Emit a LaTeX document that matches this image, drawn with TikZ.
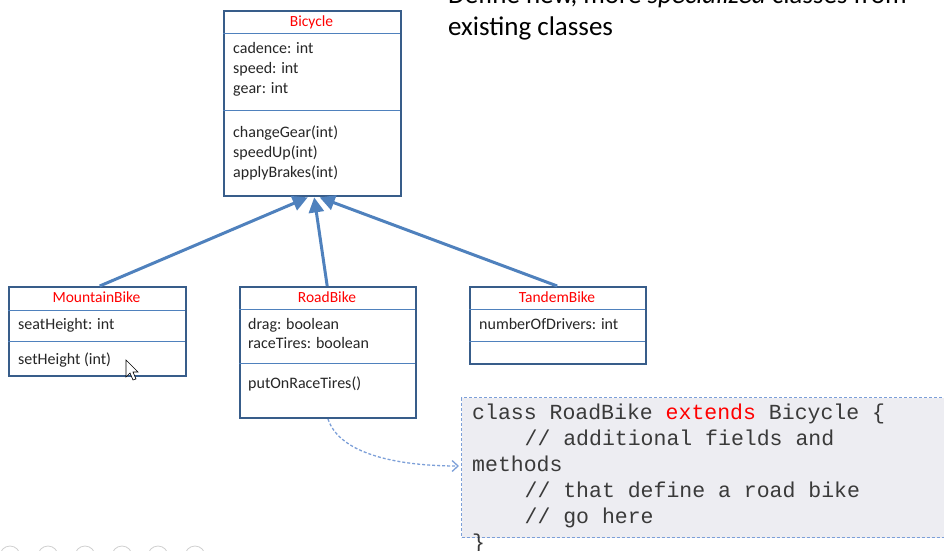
\documentclass[tikz,border=0pt]{standalone}
\usepackage{fontspec}
\setmainfont{Carlito}
\newfontfamily\codefont{Liberation Mono}
\usetikzlibrary{arrows.meta}
\definecolor{boxborder}{HTML}{385D8A}
\definecolor{sepline}{HTML}{4F81BD}
\definecolor{arrowblue}{HTML}{4F81BD}
\definecolor{titlered}{HTML}{FF0000}
\definecolor{txt}{HTML}{262626}
\definecolor{codefill}{HTML}{EDEDF2}
\definecolor{codeborder}{HTML}{7C9FD8}
\definecolor{codetxt}{HTML}{3A3A3A}
\definecolor{circgray}{HTML}{D0D0D0}
\tikzset{
  classbox/.style={draw=boxborder, line width=2.4pt, fill=white, rectangle, inner sep=0pt, anchor=north west},
  sep/.style={draw=sepline, line width=0.9pt},
  ctitle/.style={text=titlered, font=\fontsize{15.5}{18}\selectfont, anchor=base, inner sep=0pt},
  ctext/.style={text=txt, font=\fontsize{16}{19}\selectfont, anchor=base west, inner sep=0pt},
  inherit/.style={draw=arrowblue, line width=3pt, -{Triangle[length=15pt,width=15pt]}},
  codeline/.style={text=codetxt, font=\codefont\fontsize{21.5}{26}\selectfont, anchor=base west, inner sep=0pt},
  heading/.style={text=black, font=\fontsize{27}{32}\selectfont, anchor=base west, inner sep=0pt},
}
\begin{document}
\begin{tikzpicture}[x=1pt,y=-1pt]
\useasboundingbox (0,0) rectangle (944,550);
\clip (0,0) rectangle (944,550);

% heading
\node[heading] (h1) at (448,3) {Define new, more \textit{specialized} classes from};
\node[heading] (h2) at (448,35) {existing classes};

% Bicycle
\node[classbox, minimum width=177pt, minimum height=185pt] (bicycle) at (223,10) {};
\draw[sep] (223,33) -- (400,33);
\draw[sep] (223,110) -- (400,110);
\node[ctitle] (bt) at (311.5,26) {Bicycle};
\node[ctext] (b1) at (233,53) {cadence: int};
\node[ctext] (b2) at (233,73) {speed: int};
\node[ctext] (b3) at (233,93) {gear: int};
\node[ctext] (b4) at (233,137) {changeGear(int)};
\node[ctext] (b5) at (233,157) {speedUp(int)};
\node[ctext] (b6) at (233,177) {applyBrakes(int)};

% MountainBike
\node[classbox, minimum width=177pt, minimum height=89pt] (mtb) at (8,286) {};
\draw[sep] (8,310) -- (185,310);
\draw[sep] (8,341) -- (185,341);
\node[ctitle] (mt) at (96.5,302.5) {MountainBike};
\node[ctext] (m1) at (18,329) {seatHeight: int};
\node[ctext] (m2) at (18,364) {setHeight (int)};

% RoadBike
\node[classbox, minimum width=176pt, minimum height=131pt] (road) at (239,286) {};
\draw[sep] (239,309) -- (415,309);
\draw[sep] (239,363) -- (415,363);
\node[ctitle] (rt) at (327,302.5) {RoadBike};
\node[ctext] (r1) at (248,329) {drag: boolean};
\node[ctext] (r2) at (248,348) {raceTires: boolean};
\node[ctext] (r3) at (248,388) {putOnRaceTires()};

% TandemBike
\node[classbox, minimum width=176pt, minimum height=77pt] (tandem) at (469,286) {};
\draw[sep] (469,309) -- (645,309);
\draw[sep] (469,341) -- (645,341);
\node[ctitle] (tt) at (557,302.5) {TandemBike};
\node[ctext] (t1) at (479,329) {numberOfDrivers: int};

% inheritance arrows
\draw[inherit] ([xshift=2pt]mtb.north) -- ([xshift=-5pt]bicycle.south);
\draw[inherit] ([xshift=-1pt]road.north) -- ([xshift=1.5pt]bicycle.south);
\draw[inherit] ([xshift=-1pt]tandem.north) -- ([xshift=7pt]bicycle.south);

% code box
\node[draw=codeborder, dash pattern=on 3pt off 2pt, line width=1.1pt, fill=codefill,
      minimum width=500pt, minimum height=140pt, anchor=north west, inner sep=0pt] (code) at (461,397) {};
\node[codeline] (c1) at (472,419) {class RoadBike \textcolor{titlered}{extends} Bicycle \{};
\node[codeline] (c2) at (524.4,445) {// additional fields and};
\node[codeline] (c3) at (472,471) {methods};
\node[codeline] (c4) at (524.4,497) {// that define a road bike};
\node[codeline] (c5) at (524.4,523) {// go here};
\node[codeline] (c6) at (472,549) {\}};

% dashed pointer
\coordinate (dstart) at (328,419);
\coordinate (dend) at (459,466);
\draw[draw=codeborder, dash pattern=on 3pt off 2pt, line width=1.3pt, -{Straight Barb[length=6pt,width=11pt]}]
  (dstart) .. controls (340,455) and (400,466) .. (dend);

% mouse cursor
\draw[fill=white, draw=black, line width=0.6pt, line join=miter]
  (126,360) -- (126,377) -- (130,373) -- (133,380) -- (136,379) -- (133,372) -- (138,372) -- cycle;

% faint circles at bottom
\foreach \cx [count=\i] in {10,48,85,122,158,195}
  \draw[circgray, line width=0.8pt] (\cx,556) circle (10pt);
\end{tikzpicture}
\end{document}
